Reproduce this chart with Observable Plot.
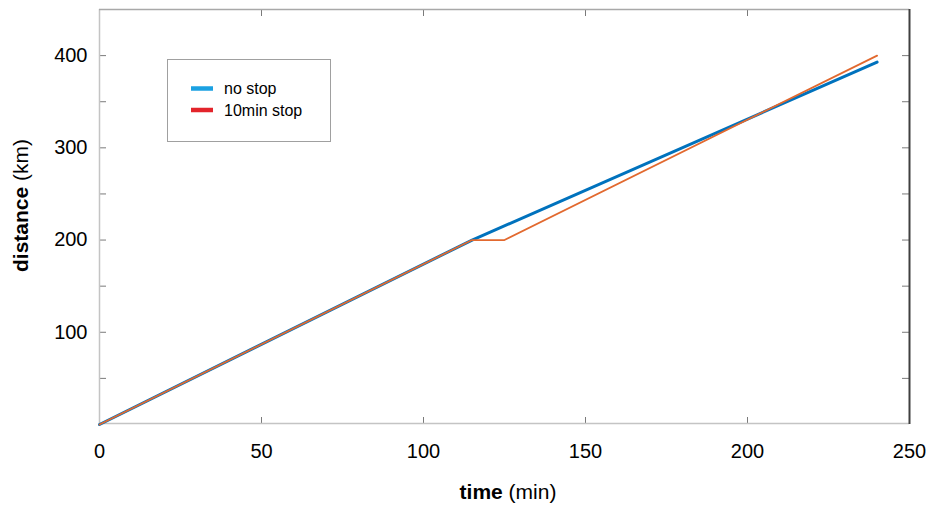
<!DOCTYPE html>
<html><head><meta charset="utf-8">
<script src="https://cdn.jsdelivr.net/npm/d3@7"></script>
<script src="https://cdn.jsdelivr.net/npm/@observablehq/plot@0.6"></script>
<style>
body{margin:0;background:#fff;}
#chart{position:relative;width:928px;height:506px;}
</style></head><body><div id="chart"></div>
<script>
// Data
const noStopTime = [0, 115, 240];
const noStopDist = [0, 200, 393];
const stopTime = [0, 115, 125, 240];
const stopDist = [0, 200, 200, 400];
const xTickLabels = [0, 50, 100, 150, 200, 250];
const xInnerTicks = [50, 100, 150, 200];
const yTickLabels = [100, 200, 300, 400];
const yInnerTicks = [50, 100, 150, 200, 250, 300, 350, 400];
const seriesNames = ["no stop", "10min stop"];
const legendColors = ["#1ba1e2", "#e3242b"];
const lineColors = ["#0072bd", "#e2692f"];
const xTitle = ["time", " (min)"];
const yTitle = ["distance", " (km)"];

const noStop = noStopTime.map((t, i) => ({t, d: noStopDist[i]}));
const withStop = stopTime.map((t, i) => ({t, d: stopDist[i]}));

const W = 928, H = 506, mL = 99, mR = 19, mT = 9, mB = 82;
const plotW = W - mL - mR, plotH = H - mT - mB, tk = 7;
const font = "'Liberation Sans', Arial, sans-serif";

const chart = Plot.plot({
  width: W, height: H,
  marginLeft: mL, marginRight: mR, marginTop: mT, marginBottom: mB,
  style: {fontFamily: font, color: "#000", background: "#fff", overflow: "visible"},
  x: {domain: [0, 250], label: null},
  y: {domain: [0, 450], label: null},
  marks: [
    Plot.axisX(xTickLabels, {tickSize: 0, tickPadding: 19, fontSize: 20, label: null}),
    Plot.axisY(yTickLabels, {tickSize: 0, tickPadding: 12, fontSize: 20, label: null}),
    Plot.tickX(xInnerTicks, {x: d => d, stroke: "#7a7a7a", insetTop: plotH - tk}),
    Plot.tickX(xInnerTicks, {x: d => d, stroke: "#7a7a7a", insetBottom: plotH - tk}),
    Plot.tickY(yInnerTicks, {y: d => d, stroke: "#7a7a7a", insetRight: plotW - tk}),
    Plot.tickY(yInnerTicks, {y: d => d, stroke: "#7a7a7a", insetLeft: plotW - tk}),
    Plot.ruleX([0], {stroke: "#c4c4c4", strokeWidth: 1.5}),
    Plot.ruleY([0], {stroke: "#c4c4c4", strokeWidth: 1.5, dy: -1}),
    Plot.ruleY([450], {stroke: "#a8a8a8", strokeWidth: 1.5}),
    Plot.ruleX([250], {stroke: "#404040", strokeWidth: 2}),
    Plot.line(noStop, {x: "t", y: "d", stroke: lineColors[0], strokeWidth: 3}),
    Plot.line(withStop, {x: "t", y: "d", stroke: lineColors[1], strokeWidth: 1.8})
  ]
});
document.getElementById("chart").appendChild(chart);

const svg = d3.select(chart);
// Axis titles
const xt = svg.append("text")
  .attr("x", (mL + W - mR) / 2 + 4).attr("y", 499)
  .attr("text-anchor", "middle").attr("font-size", 21).attr("font-family", font).attr("fill", "#000");
xt.append("tspan").attr("font-weight", "bold").text(xTitle[0]);
xt.append("tspan").text(xTitle[1]);

const yt = svg.append("text")
  .attr("transform", `translate(28,${(mT + H - mB) / 2 - 11}) rotate(-90)`)
  .attr("text-anchor", "middle").attr("font-size", 21).attr("font-family", font).attr("fill", "#000");
yt.append("tspan").attr("font-weight", "bold").text(yTitle[0]);
yt.append("tspan").text(yTitle[1]);

// Legend
const lg = svg.append("g").attr("text-anchor", "start");
lg.append("rect").attr("x", 167.5).attr("y", 59.5).attr("width", 163).attr("height", 82)
  .attr("fill", "#fff").attr("stroke", "#a0a0a0").attr("stroke-width", 1);
seriesNames.forEach((name, i) => {
  const cy = 88.5 + i * 21.5;
  lg.append("line").attr("x1", 191).attr("x2", 213).attr("y1", cy).attr("y2", cy)
    .attr("stroke", legendColors[i]).attr("stroke-width", 4.5);
  lg.append("text").attr("x", 224).attr("y", cy).attr("dy", "0.35em")
    .attr("text-anchor", "start")
    .attr("font-size", 16).attr("font-family", font).attr("fill", "#000").text(name);
});
</script>
</body></html>
